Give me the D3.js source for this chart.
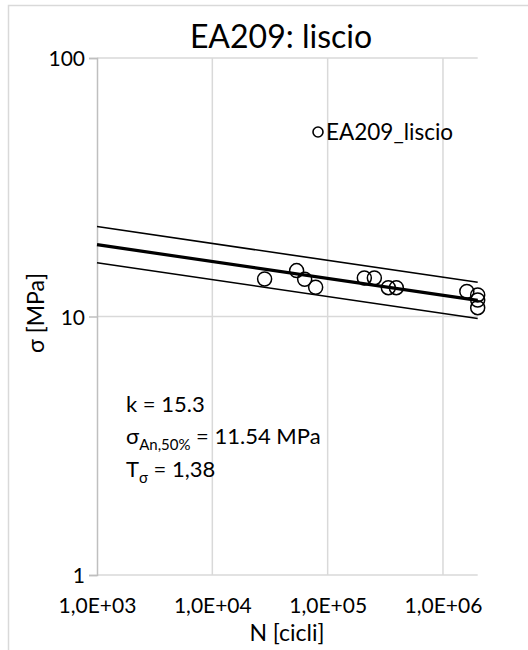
<!DOCTYPE html>
<html lang="it">
  <head>
    <meta charset="utf-8">
    <title>EA209: liscio</title>
    <script src="https://cdn.jsdelivr.net/npm/d3@7"></script>
    <style>
      body { margin: 0; background: #fff; }
      text { font-family: Lato, "Open Sans", sans-serif; fill: #000; }
    </style>
  </head>
  <body>
    <script>
      // Data
      var cycles = [28400, 53800, 63200, 78700, 208000, 254000, 336000, 394000, 1610000, 2000000, 2000000, 2000000];
      var stress = [13.97, 15.05, 13.94, 12.98, 14.10, 14.10, 12.93, 12.93, 12.50, 12.12, 11.58, 10.82];

      // fitted line and scatter band, given at the two ends of the range
      var lineN = [1e3, 2e6];
      var line50 = [18.97, 11.54];
      var line10 = [22.29, 13.56];
      var line90 = [16.15, 9.82];

      var xTicks = [1e3, 1e4, 1e5, 1e6];
      var xTickLabels = ["1,0E+03", "1,0E+04", "1,0E+05", "1,0E+06"];
      var yTicks = [1, 10, 100];
      var yTickLabels = ["1", "10", "100"];

      // Plot area
      var W = 528, H = 650;
      var plotLeft = 97, plotRight = 477.7, plotTop = 58, plotBottom = 575;

      var svg = d3.select("body").append("svg")
                  .attr("width", W)
                  .attr("height", H);

      // outer chart border (runs off the right / bottom of the picture)
      svg.append("rect")
        .attr("x", 8.5).attr("y", 5.5)
        .attr("width", W + 20).attr("height", H + 20)
        .attr("fill", "none")
        .attr("stroke", "#d9d9d9")
        .attr("stroke-width", 1.5);

      var x = d3.scaleLog().domain([1e3, 2e6]).range([plotLeft, plotRight]);
      var y = d3.scaleLog().domain([1, 100]).range([plotBottom, plotTop]);

      // gridlines
      var grid = svg.append("g");
      grid.selectAll("line.v")
        .data(xTicks.slice(1))
        .enter().append("line")
        .attr("class", "v")
        .attr("x1", function(d) { return x(d); })
        .attr("x2", function(d) { return x(d); })
        .attr("y1", plotTop).attr("y2", plotBottom)
        .attr("stroke", "#d9d9d9").attr("stroke-width", 1.5);
      grid.selectAll("line.h")
        .data(yTicks)
        .enter().append("line")
        .attr("class", "h")
        .attr("x1", plotLeft).attr("x2", plotRight)
        .attr("y1", function(d) { return y(d); })
        .attr("y2", function(d) { return y(d); })
        .attr("stroke", "#d9d9d9").attr("stroke-width", 1.5);

      // y axis
      var yaxis = svg.append("g")
        .attr("transform", "translate(" + plotLeft + ",0)")
        .call(d3.axisLeft(y)
                .tickValues(yTicks)
                .tickSize(8)
                .tickPadding(4)
                .tickFormat(function(d, i) { return yTickLabels[i]; }));
      yaxis.select(".domain").attr("stroke", "#bfbfbf").attr("stroke-width", 1.5);
      yaxis.selectAll(".tick line").attr("stroke", "#bfbfbf").attr("stroke-width", 1.5);
      yaxis.selectAll(".tick text")
        .attr("font-size", 21)
        .attr("dy", "0.36em")
        .style("font-family", "Lato, 'Open Sans', sans-serif")
        .attr("fill", "#000");

      // x axis
      var xaxis = svg.append("g")
        .attr("transform", "translate(0," + plotBottom + ")")
        .call(d3.axisBottom(x)
                .tickValues(xTicks)
                .tickSize(0)
                .tickPadding(38)
                .tickFormat(function(d, i) { return xTickLabels[i]; }));
      xaxis.select(".domain").remove();
      xaxis.selectAll(".tick text")
        .attr("font-size", 21)
        .attr("dy", 0)
        .style("font-family", "Lato, 'Open Sans', sans-serif")
        .attr("fill", "#000");

      // axis titles
      svg.append("text")
        .attr("x", 287).attr("y", 641)
        .attr("text-anchor", "middle")
        .attr("font-size", 23)
        .text("N [cicli]");
      svg.append("text")
        .attr("transform", "translate(44,313) rotate(-90)")
        .attr("text-anchor", "middle")
        .attr("font-size", 23)
        .text("σ [MPa]");

      // title
      svg.append("text")
        .attr("x", 281).attr("y", 48)
        .attr("text-anchor", "middle")
        .attr("font-size", 32)
        .text("EA209: liscio");

      // fit lines
      var path = d3.line()
        .x(function(d) { return x(d[0]); })
        .y(function(d) { return y(d[1]); });
      var bands = [
        {vals: line10, w: 1.6},
        {vals: line90, w: 1.6},
        {vals: line50, w: 3.2}
      ];
      svg.selectAll("path.fit")
        .data(bands)
        .enter().append("path")
        .attr("class", "fit")
        .attr("d", function(b) { return path(lineN.map(function(n, i) { return [n, b.vals[i]]; })); })
        .attr("fill", "none")
        .attr("stroke", "#000")
        .attr("stroke-width", function(b) { return b.w; });

      // data points
      svg.selectAll("circle.pt")
        .data(cycles)
        .enter().append("circle")
        .attr("class", "pt")
        .attr("cx", function(d) { return x(d); })
        .attr("cy", function(d, i) { return y(stress[i]); })
        .attr("r", 7)
        .attr("fill", "none")
        .attr("stroke", "#000")
        .attr("stroke-width", 1.5);

      // legend
      var legend = svg.append("g").attr("transform", "translate(318,132)");
      legend.append("circle")
        .attr("r", 5)
        .attr("fill", "none")
        .attr("stroke", "#000")
        .attr("stroke-width", 1.6);
      legend.append("text")
        .attr("x", 8).attr("y", 8)
        .attr("font-size", 22.5)
        .text("EA209_liscio");

      // annotation
      var note = svg.append("g").attr("transform", "translate(126,0)");
      note.append("text")
        .attr("y", 412)
        .attr("font-size", 22)
        .text("k = 15.3");
      var t2 = note.append("text").attr("y", 444).attr("font-size", 22);
      t2.append("tspan").text("σ");
      t2.append("tspan").attr("font-size", 15).attr("dy", 6).text("An,50%");
      t2.append("tspan").attr("dy", -6).text(" = 11.54 MPa");
      var t3 = note.append("text").attr("y", 477).attr("font-size", 22);
      t3.append("tspan").text("T");
      t3.append("tspan").attr("font-size", 15).attr("dy", 6).text("σ");
      t3.append("tspan").attr("dy", -6).text(" = 1,38");
    </script>
  </body>
</html>
